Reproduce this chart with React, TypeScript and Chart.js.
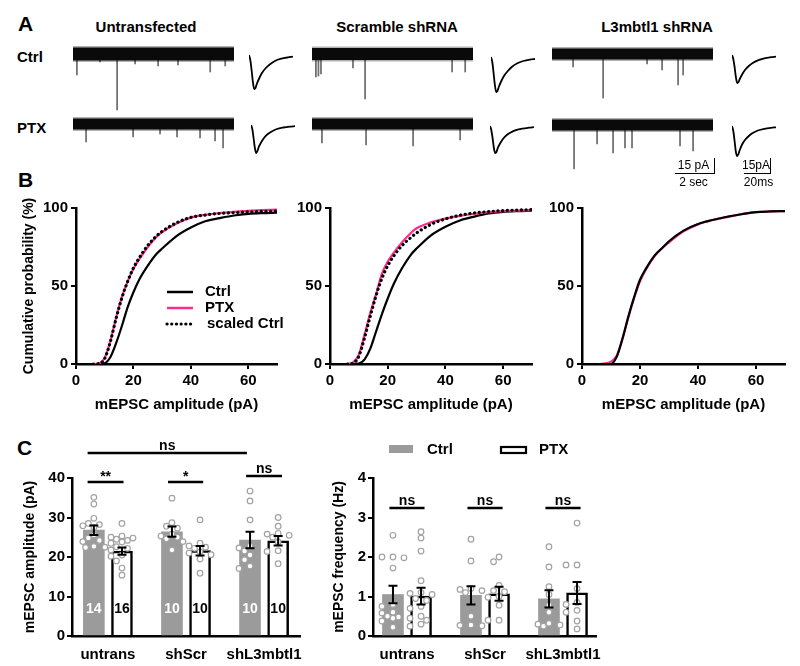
import React, { useEffect, useRef } from 'react';
import { Chart, registerables } from 'chart.js';

Chart.register(...registerables);

const FONT = '"Liberation Sans", Arial, Helvetica, sans-serif';
Chart.defaults.font.family = FONT;
Chart.defaults.color = '#000';

// ---------------- Panel A: example traces ----------------
const TRACE_SECONDS = 8.25;
// spike times (s) and amplitudes (pA, inward = negative)
const UNTRANS_CTRL_T = [0.2, 1.38, 2.26, 3.18, 4.36, 5.38, 7.03, 7.8];
const UNTRANS_CTRL_A = [-21, -8, -56, -10, -12, -11, -18, -12];
const UNTRANS_PTX_T = [0.67, 3.08, 4.46, 5.33, 6.51, 7.28, 7.69];
const UNTRANS_PTX_A = [-18, -13, -10, -13, -14, -17, -24];
const SCR_CTRL_T = [0.2, 0.33, 0.46, 2.1, 2.72, 7.18, 7.85];
const SCR_CTRL_A = [-23, -22, -20, -14, -45, -18, -18];
const SCR_PTX_T = [0.51, 2.77, 5.18, 7.59];
const SCR_PTX_A = [-19, -21, -22, -16];
const L3_CTRL_T = [1.08, 2.62, 4.87, 5.64, 6.46, 6.72];
const L3_CTRL_A = [-13, -44, -10, -16, -31, -21];
const L3_PTX_T = [1.13, 2.31, 3.13, 3.74, 4.1, 6.56, 7.23];
const L3_PTX_A = [-44, -19, -28, -23, -23, -21, -26];

// averaged mEPSC waveforms (ms, pA)
const AVG_T = [0, 1, 2, 3, 4, 5, 6, 8, 10, 13, 16, 20, 25, 30, 34];
const AVG_UNTRANS_CTRL = [0, -5, -15, -27, -34, -33, -29, -23, -18, -13, -9.5, -6, -3.7, -2.4, -1.7];
const AVG_UNTRANS_PTX = [0, -4, -13, -23, -28, -26, -22, -17, -13, -9, -6.5, -4, -2.5, -1.6, -1.2];
const AVG_SCR_CTRL = [0, -5, -16, -28, -35, -34, -30, -24, -19, -14, -10, -6.5, -4, -2.6, -2];
const AVG_SCR_PTX = [0, -4, -12, -22, -27, -26, -22, -17, -13, -9, -6.5, -4.2, -2.6, -1.7, -1.2];
const AVG_L3_CTRL = [0, -4, -12, -22, -28, -27, -24, -19, -15, -11, -8, -5.3, -3.3, -2.2, -1.6];
const AVG_L3_PTX = [0, -5, -15, -26, -30, -28, -24, -18, -14, -10, -7, -4.5, -2.8, -1.8, -1.3];

// ---------------- Panel B: cumulative distributions ----------------
const CDF_X = [6, 8, 10, 12, 14, 16, 18, 20, 22, 25, 28, 30, 35, 40, 45, 50, 55, 60, 65, 70];
const B1_CTRL = [0, 0, 0.5, 4.5, 13.5, 24.5, 36.5, 46, 54, 63, 70.5, 74, 82, 87.5, 91.5, 93.5, 95.2, 96.2, 96.7, 97];
const B1_PTX = [0, 0.3, 4, 15, 30, 43, 53, 61, 67, 75, 81.5, 84.5, 90, 93.8, 95.6, 96.7, 97.5, 98.2, 98.6, 99];
const B1_SCALED = [0, 0.3, 3.5, 14.5, 29.5, 42.5, 53, 61.5, 68, 76, 82, 85, 90.5, 94, 95.5, 96.5, 97, 97.5, 97.8, 98];
const B2_CTRL = [0, 0, 0.3, 3, 10, 21, 32, 42, 51, 61.5, 70, 74, 82.5, 88, 92, 94.5, 96.5, 97.5, 98, 98.3];
const B2_PTX = [0, 1, 6, 19, 33, 45, 58, 65.5, 71, 78, 84, 87, 90.8, 93.2, 95, 96.3, 97.4, 98, 98.3, 98.5];
const B2_SCALED = [0, 0.5, 5, 17, 31, 44, 55, 63, 69, 76, 81, 84, 89.5, 93, 95.3, 96.8, 97.7, 98.3, 98.7, 99];
const B3_CTRL = [0, 0, 0, 4.7, 16.5, 30.5, 43, 54, 61, 69.5, 75, 78.7, 85.5, 89.8, 92.3, 94.4, 96, 97.4, 97.8, 98];
const B3_PTX = [0, 0.5, 1.5, 5.5, 16.5, 30, 42.5, 53, 60.5, 69, 75, 78, 85, 89.5, 92.3, 94.2, 96, 97.3, 97.8, 98];

// ---------------- Panel C: bar charts ----------------
const CATS = ['untrans', 'shScr', 'shL3mbtl1'];
const AMP_CTRL_MEAN = [26.8, 26.4, 24.3];
const AMP_CTRL_SEM = [1.2, 1.3, 2.1];
const AMP_PTX_MEAN = [21.5, 21.6, 24.1];
const AMP_PTX_SEM = [0.9, 1.2, 1.2];
const AMP_CTRL_N = [14, 10, 10];
const AMP_PTX_N = [16, 10, 10];
const AMP_UNTRANS_CTRL_PTS = [35.1, 33.4, 29.8, 28.5, 28.2, 27.9, 27.5, 25.6, 24.8, 24.2, 23.9, 22.7, 22.5, 22.4];
const AMP_UNTRANS_PTX_PTS = [28.5, 25.3, 25, 24.8, 24.5, 24.2, 23.8, 23.5, 22.6, 22.2, 21.8, 20.5, 20.2, 19, 17.2, 15.4];
const AMP_SCR_CTRL_PTS = [34.9, 28.7, 27.8, 27.3, 25.8, 25.3, 25, 24.6, 23.9, 21.8];
const AMP_SCR_PTX_PTS = [29.4, 23.5, 22.8, 22.5, 22.2, 21.3, 21, 20.6, 19.5, 15.9];
const AMP_L3_CTRL_PTS = [36.7, 34.2, 29.4, 22.8, 22.3, 21.5, 20.5, 19.3, 17.7, 17.1];
const AMP_L3_PTX_PTS = [30, 27.8, 26, 25.8, 25.5, 25, 23.8, 21.6, 21.4, 18.3];

const FREQ_CTRL_MEAN = [1.05, 1.03, 0.94];
const FREQ_CTRL_SEM = [0.22, 0.23, 0.22];
const FREQ_PTX_MEAN = [1.01, 1.07, 1.09];
const FREQ_PTX_SEM = [0.21, 0.18, 0.28];
const FREQ_UNTRANS_CTRL_PTS = [2.55, 2.0, 2.0, 1.98, 1.72, 0.8, 0.75, 0.6, 0.58, 0.5, 0.48, 0.45, 0.38, 0.22];
const FREQ_UNTRANS_PTX_PTS = [2.64, 2.48, 2.15, 1.4, 1.1, 1.08, 1.05, 0.95, 0.9, 0.75, 0.7, 0.5, 0.45, 0.4, 0.3, 0.25];
const FREQ_SCR_CTRL_PTS = [2.45, 1.9, 1.2, 1.18, 1.15, 1.1, 0.5, 0.28, 0.27, 0.26];
const FREQ_SCR_PTX_PTS = [2.0, 1.88, 1.28, 1.15, 1.12, 1.0, 0.98, 0.78, 0.4, 0.4];
const FREQ_L3_CTRL_PTS = [2.26, 1.75, 1.25, 1.05, 0.78, 0.6, 0.32, 0.3, 0.28, 0.25];
const FREQ_L3_PTX_PTS = [2.86, 1.8, 1.8, 1.2, 0.85, 0.8, 0.65, 0.6, 0.38, 0.18];

const AMP_BRACKETS = [
  { from: -0.26, to: 0.2, y: 39, label: '**' },
  { from: 0.77, to: 1.22, y: 39, label: '*' },
  { from: 1.77, to: 2.23, y: 40.5, label: 'ns' },
  { from: -0.26, to: 1.78, y: 46.3, label: 'ns' },
];
const FREQ_BRACKETS = [
  { from: -0.225, to: 0.225, y: 3.24, label: 'ns' },
  { from: 0.775, to: 1.225, y: 3.24, label: 'ns' },
  { from: 1.775, to: 2.225, y: 3.24, label: 'ns' },
];

// ---------------- styling ----------------
const PINK = '#ff2a90';
const GREY = '#9b9b9b';
const SIDE = 0.18;
const PX_PER_GROUP = 78;
const tickFont = { size: 15, weight: 'bold' as const };
const baseGrid = { display: true, drawOnChartArea: false, drawTicks: true, tickLength: 5, color: '#000', lineWidth: 2 };
const baseBorder = { display: true, color: '#000', width: 2.5 };
const fixWidth = (w: number) => (s: any) => { s.width = w; };
const fixHeight = (h: number) => (s: any) => { s.height = h; };
const commonOpts = {
  animation: false as const,
  responsive: true,
  maintainAspectRatio: false,
  events: [] as any[],
  plugins: { legend: { display: false }, tooltip: { enabled: false } },
};

function swarmOffsets(vals: number[], pxPerY: number): number[] {
  const r2 = 6.2 * 6.2;
  const cands = [0, -5.5, 5.5, -11, 11, -2.75, 2.75, -8.25, 8.25];
  const placed: [number, number][] = [];
  return vals.map((v) => {
    const y = v * pxPerY;
    let best = 0;
    let bestD = -1;
    for (const dx of cands) {
      const d = placed.reduce((m, [px, py]) => Math.min(m, (px - dx) ** 2 + (py - y) ** 2), Infinity);
      if (d >= r2) { best = dx; break; }
      if (d > bestD) { bestD = d; best = dx; }
    }
    placed.push([best, y]);
    return best;
  });
}

function traceConfig(t: number[], a: number[], band: number): any {
  const base = [{ x: 0, y: 0 }, { x: TRACE_SECONDS, y: 0 }];
  return {
    type: 'bar',
    data: {
      datasets: [
        { type: 'line', data: base, borderColor: '#0a0a0a', borderWidth: band - 2, pointRadius: 0, clip: false, order: 0 },
        { type: 'line', data: base, borderColor: 'rgba(0,0,0,0.3)', borderWidth: band + 1, pointRadius: 0, clip: false, order: 1 },
        { type: 'bar', data: t.map((x, i) => ({ x, y: [0, a[i]] })), backgroundColor: '#707070', barThickness: 1.1, grouped: false, order: 2 },
      ],
    },
    options: {
      ...commonOpts,
      layout: { padding: 0 },
      scales: {
        x: { type: 'linear', display: false, min: 0, max: TRACE_SECONDS, offset: false },
        y: { type: 'linear', display: false, min: -60, max: 10 },
      },
    },
  };
}

function avgConfig(v: number[]): any {
  return {
    type: 'line',
    data: {
      datasets: [{
        data: AVG_T.map((x, i) => ({ x, y: v[i] })), borderColor: '#000', borderWidth: 1.8,
        pointRadius: 0, cubicInterpolationMode: 'monotone', clip: false,
      }],
    },
    options: {
      ...commonOpts,
      layout: { padding: 0 },
      scales: {
        x: { type: 'linear', display: false, min: 0, max: 34 },
        y: { type: 'linear', display: false, min: -37, max: 3 },
      },
    },
  };
}

function cdfLine(vals: number[], color: string, dotted: boolean): any {
  return {
    data: CDF_X.map((x, i) => ({ x, y: vals[i] })),
    borderColor: color,
    borderWidth: dotted ? 3.2 : 2.2,
    borderDash: dotted ? [0.1, 4.6] : [],
    borderCapStyle: dotted ? 'round' : 'butt',
    pointRadius: 0,
    cubicInterpolationMode: 'monotone',
    fill: false,
  };
}

function cdfConfig(datasets: any[], yW: number, padRight: number, showYTitle: boolean, plugins: any[]): any {
  return {
    type: 'line',
    data: { datasets },
    options: {
      ...commonOpts,
      layout: { padding: { top: 13, right: padRight, left: 0, bottom: 0 } },
      scales: {
        x: {
          type: 'linear', min: 0, max: 70, afterFit: fixHeight(56),
          ticks: { stepSize: 20, includeBounds: false, font: tickFont, color: '#000', padding: 3 },
          grid: baseGrid, border: baseBorder,
          title: { display: true, text: 'mEPSC amplitude (pA)', font: { size: 15, weight: 'bold' }, color: '#000', padding: { top: 0, bottom: 6 } },
        },
        y: {
          type: 'linear', min: 0, max: 100, afterFit: fixWidth(yW),
          ticks: { stepSize: 50, font: tickFont, color: '#000', padding: 3 },
          grid: baseGrid, border: baseBorder,
          title: { display: showYTitle, text: 'Cumulative probability (%)', font: { size: 14, weight: 'bold' }, color: '#000', padding: { top: 20.6, bottom: 0 } },
        },
      },
    },
    plugins,
  };
}

const cdfLegend = {
  id: 'cdfLegend',
  afterDraw(chart: any) {
    const ctx = chart.ctx;
    ctx.save();
    const items = [
      { y: 97, label: 'Ctrl', color: '#000', dotted: false, tx: 205 },
      { y: 113, label: 'PTX', color: PINK, dotted: false, tx: 205 },
      { y: 129, label: 'scaled Ctrl', color: '#000', dotted: true, tx: 207 },
    ];
    for (const it of items) {
      ctx.beginPath();
      ctx.strokeStyle = it.color;
      ctx.lineWidth = it.dotted ? 3.2 : 2.5;
      ctx.setLineDash(it.dotted ? [0.1, 4.6] : []);
      ctx.lineCap = it.dotted ? 'round' : 'butt';
      ctx.moveTo(167, it.y);
      ctx.lineTo(193, it.y);
      ctx.stroke();
      ctx.setLineDash([]);
      ctx.fillStyle = '#000';
      ctx.font = `bold 15px ${FONT}`;
      ctx.textBaseline = 'middle';
      ctx.textAlign = 'left';
      ctx.fillText(it.label, it.tx, it.y);
    }
    ctx.restore();
  },
};

function barConfig(p: {
  ctrlMean: number[]; ctrlSem: number[]; ptxMean: number[]; ptxSem: number[];
  ctrlPts: number[][]; ptxPts: number[][]; pxPerY: number;
  xMin: number; xMax: number; yMax: number; yStep: number; yTitle: string; yW: number; titlePad: number; padRight: number;
  brackets: { from: number; to: number; y: number; label: string }[];
  nCtrl?: number[]; nPtx?: number[]; nY?: number; legend?: boolean;
}): any {
  const toPts = (groups: number[][], side: number) =>
    groups.flatMap((vals, gi) => {
      const off = swarmOffsets(vals, p.pxPerY);
      return vals.map((v, k) => ({ x: gi + side + off[k] / PX_PER_GROUP, y: v }));
    });
  const ptStyle = { pointRadius: 2.8, pointBorderWidth: 1.2, pointBorderColor: '#a2a2a2', pointBackgroundColor: '#fff', showLine: false };
  const decor = {
    id: 'decor',
    afterDatasetsDraw(chart: any) {
      const ctx = chart.ctx;
      const ys = chart.scales.y;
      const xs = chart.scales.x;
      ctx.save();
      ctx.strokeStyle = '#000';
      ctx.lineWidth = 2;
      const eb: [number, number[], number[]][] = [[2, p.ctrlMean, p.ctrlSem], [3, p.ptxMean, p.ptxSem]];
      for (const [di, m, s] of eb) {
        chart.getDatasetMeta(di).data.forEach((el: any, i: number) => {
          const x = el.x;
          const y1 = ys.getPixelForValue(m[i] + s[i]);
          const y0 = ys.getPixelForValue(m[i] - s[i]);
          ctx.beginPath();
          ctx.moveTo(x, y0); ctx.lineTo(x, y1);
          ctx.moveTo(x - 4.5, y1); ctx.lineTo(x + 4.5, y1);
          ctx.moveTo(x - 4.5, y0); ctx.lineTo(x + 4.5, y0);
          ctx.stroke();
        });
      }
      if (p.nCtrl && p.nPtx && p.nY !== undefined) {
        ctx.font = `bold 14px ${FONT}`;
        ctx.textAlign = 'center';
        ctx.textBaseline = 'middle';
        const yy = ys.getPixelForValue(p.nY);
        chart.getDatasetMeta(2).data.forEach((el: any, i: number) => { ctx.fillStyle = '#fff'; ctx.fillText(String(p.nCtrl![i]), el.x, yy); });
        chart.getDatasetMeta(3).data.forEach((el: any, i: number) => { ctx.fillStyle = '#000'; ctx.fillText(String(p.nPtx![i]), el.x, yy); });
      }
      ctx.lineWidth = 2.5;
      ctx.font = `bold 14px ${FONT}`;
      ctx.textAlign = 'center';
      ctx.textBaseline = 'alphabetic';
      ctx.fillStyle = '#000';
      for (const b of p.brackets) {
        const x1 = xs.getPixelForValue(b.from);
        const x2 = xs.getPixelForValue(b.to);
        const y = ys.getPixelForValue(b.y);
        ctx.beginPath(); ctx.moveTo(x1, y); ctx.lineTo(x2, y); ctx.stroke();
        ctx.fillText(b.label, (x1 + x2) / 2, b.label === 'ns' ? y - 3 : y - 1);
      }
      if (p.legend) {
        ctx.fillStyle = GREY;
        ctx.fillRect(69, 15, 24, 8);
        ctx.fillStyle = '#fff';
        ctx.fillRect(181, 17, 25, 6);
        ctx.strokeStyle = '#000';
        ctx.lineWidth = 2.2;
        ctx.strokeRect(181, 17, 25, 6);
        ctx.fillStyle = '#000';
        ctx.font = `bold 15px ${FONT}`;
        ctx.textAlign = 'left';
        ctx.textBaseline = 'middle';
        ctx.fillText('Ctrl', 107, 20);
        ctx.fillText('PTX', 219, 20);
      }
      ctx.restore();
    },
  };
  return {
    type: 'bar',
    data: {
      datasets: [
        { type: 'scatter', data: toPts(p.ctrlPts, -SIDE), ...ptStyle, order: 1 },
        { type: 'scatter', data: toPts(p.ptxPts, SIDE), ...ptStyle, order: 1 },
        { type: 'bar', data: p.ctrlMean.map((y, i) => ({ x: i - SIDE, y })), backgroundColor: GREY, borderWidth: 0, barThickness: 21, grouped: false, order: 2 },
        { type: 'bar', data: p.ptxMean.map((y, i) => ({ x: i + SIDE, y })), backgroundColor: '#fff', borderColor: '#000', borderWidth: 2.5, barThickness: 21, grouped: false, order: 2 },
      ],
    },
    options: {
      ...commonOpts,
      layout: { padding: { top: 48, right: p.padRight, left: 0, bottom: 0 } },
      scales: {
        x: {
          type: 'linear', min: p.xMin, max: p.xMax, offset: false, afterFit: fixHeight(30),
          afterBuildTicks: (s: any) => { s.ticks = CATS.map((_, i) => ({ value: i })); },
          ticks: { callback: (v: any) => CATS[v], font: tickFont, color: '#000', padding: 2, autoSkip: false, maxRotation: 0 },
          grid: { display: false, offset: false },
          border: baseBorder,
        },
        y: {
          type: 'linear', min: 0, max: p.yMax, afterFit: fixWidth(p.yW),
          ticks: { stepSize: p.yStep, font: tickFont, color: '#000', padding: 2 },
          grid: baseGrid, border: baseBorder,
          title: { display: true, text: p.yTitle, font: { size: 14, weight: 'bold' }, color: '#000', padding: { top: p.titlePad, bottom: 0 } },
        },
      },
    },
    plugins: [decor],
  };
}

function ChartBox(props: { left: number; top: number; width: number; height: number; make: () => any }) {
  const ref = useRef<HTMLCanvasElement>(null);
  useEffect(() => {
    const chart = new Chart(ref.current as HTMLCanvasElement, props.make());
    return () => chart.destroy();
  }, []);
  return (
    <div style={{ position: 'absolute', left: props.left, top: props.top, width: props.width, height: props.height }}>
      <canvas ref={ref} />
    </div>
  );
}

function Label(props: { x: number; y: number; size: number; text: string; center?: boolean; bold?: boolean }) {
  return (
    <div
      style={{
        position: 'absolute', left: props.x, top: props.y - props.size / 2, fontSize: props.size,
        fontWeight: props.bold === false ? 'normal' : 'bold', lineHeight: 1, whiteSpace: 'nowrap',
        fontFamily: FONT, color: '#000', transform: props.center ? 'translateX(-50%)' : undefined,
      }}
    >
      {props.text}
    </div>
  );
}

function Line(props: { x: number; y: number; w: number; h: number }) {
  return <div style={{ position: 'absolute', left: props.x, top: props.y, width: props.w, height: props.h, background: '#000' }} />;
}

export default function App() {
  return (
    <div style={{ position: 'absolute', left: 0, top: 0, width: 800, height: 666, background: '#fff', overflow: 'hidden', fontFamily: FONT }}>
      {/* Panel A */}
      <Label x={18} y={23.5} size={21} text="A" />
      <Label x={146} y={26} size={15} text="Untransfected" center />
      <Label x={397} y={26} size={15} text="Scramble shRNA" center />
      <Label x={657} y={26} size={15} text="L3mbtl1 shRNA" center />
      <Label x={17} y={56.5} size={15} text="Ctrl" />
      <Label x={17} y={127.5} size={15} text="PTX" />

      <ChartBox left={73} top={44} width={161} height={70} make={() => traceConfig(UNTRANS_CTRL_T, UNTRANS_CTRL_A, 15)} />
      <ChartBox left={73} top={114} width={161} height={70} make={() => traceConfig(UNTRANS_PTX_T, UNTRANS_PTX_A, 13)} />
      <ChartBox left={312} top={44} width={161} height={70} make={() => traceConfig(SCR_CTRL_T, SCR_CTRL_A, 14)} />
      <ChartBox left={312} top={114} width={161} height={70} make={() => traceConfig(SCR_PTX_T, SCR_PTX_A, 13)} />
      <ChartBox left={552} top={44} width={161} height={70} make={() => traceConfig(L3_CTRL_T, L3_CTRL_A, 13)} />
      <ChartBox left={552} top={115} width={161} height={70} make={() => traceConfig(L3_PTX_T, L3_PTX_A, 13)} />

      <ChartBox left={249} top={52} width={44} height={40} make={() => avgConfig(AVG_UNTRANS_CTRL)} />
      <ChartBox left={251} top={122} width={44} height={40} make={() => avgConfig(AVG_UNTRANS_PTX)} />
      <ChartBox left={491} top={54} width={44} height={40} make={() => avgConfig(AVG_SCR_CTRL)} />
      <ChartBox left={490} top={123} width={44} height={40} make={() => avgConfig(AVG_SCR_PTX)} />
      <ChartBox left={732} top={52} width={44} height={40} make={() => avgConfig(AVG_L3_CTRL)} />
      <ChartBox left={732} top={123} width={44} height={40} make={() => avgConfig(AVG_L3_PTX)} />

      {/* scale bars */}
      <Line x={713.5} y={158} w={1.4} h={16} />
      <Line x={675} y={172.6} w={40} h={1.4} />
      <Label x={693.5} y={165} size={12} text="15 pA" center bold={false} />
      <Label x={693.5} y={182} size={12} text="2 sec" center bold={false} />
      <Line x={769.5} y={158} w={1.4} h={16} />
      <Line x={744} y={172.6} w={27} h={1.4} />
      <Label x={756} y={165} size={12} text="15pA" center bold={false} />
      <Label x={758.5} y={182} size={12} text="20ms" center bold={false} />

      {/* Panel B */}
      <Label x={18} y={179} size={21} text="B" />
      <ChartBox left={0} top={195} width={292} height={225}
        make={() => cdfConfig([cdfLine(B1_SCALED, '#000', true), cdfLine(B1_PTX, PINK, false), cdfLine(B1_CTRL, '#000', false)], 76, 15, true, [cdfLegend])} />
      <ChartBox left={292} top={195} width={253} height={225}
        make={() => cdfConfig([cdfLine(B2_SCALED, '#000', true), cdfLine(B2_PTX, PINK, false), cdfLine(B2_CTRL, '#000', false)], 38, 13, false, [])} />
      <ChartBox left={545} top={195} width={255} height={225}
        make={() => cdfConfig([cdfLine(B3_CTRL, '#000', false), cdfLine(B3_PTX, PINK, false)], 37, 15, false, [])} />

      {/* Panel C */}
      <Label x={17} y={447} size={21} text="C" />
      <ChartBox left={0} top={430} width={316} height={236}
        make={() => barConfig({
          ctrlMean: AMP_CTRL_MEAN, ctrlSem: AMP_CTRL_SEM, ptxMean: AMP_PTX_MEAN, ptxSem: AMP_PTX_SEM,
          ctrlPts: [AMP_UNTRANS_CTRL_PTS, AMP_SCR_CTRL_PTS, AMP_L3_CTRL_PTS],
          ptxPts: [AMP_UNTRANS_PTX_PTS, AMP_SCR_PTX_PTS, AMP_L3_PTX_PTS],
          pxPerY: 3.95, xMin: -0.46, xMax: 2.46, yMax: 40, yStep: 10, yTitle: 'mEPSC amplitude (pA)',
          yW: 72, titlePad: 21.6, padRight: 16, brackets: AMP_BRACKETS,
          nCtrl: AMP_CTRL_N, nPtx: AMP_PTX_N, nY: 6.8,
        })} />
      <ChartBox left={320} top={430} width={300} height={236}
        make={() => barConfig({
          ctrlMean: FREQ_CTRL_MEAN, ctrlSem: FREQ_CTRL_SEM, ptxMean: FREQ_PTX_MEAN, ptxSem: FREQ_PTX_SEM,
          ctrlPts: [FREQ_UNTRANS_CTRL_PTS, FREQ_SCR_CTRL_PTS, FREQ_L3_CTRL_PTS],
          ptxPts: [FREQ_UNTRANS_PTX_PTS, FREQ_SCR_PTX_PTS, FREQ_L3_PTX_PTS],
          pxPerY: 39.5, xMin: -0.436, xMax: 2.423, yMax: 4, yStep: 1, yTitle: 'mEPSC frequency (Hz)',
          yW: 53, titlePad: 10.6, padRight: 24, brackets: FREQ_BRACKETS, legend: true,
        })} />
    </div>
  );
}
